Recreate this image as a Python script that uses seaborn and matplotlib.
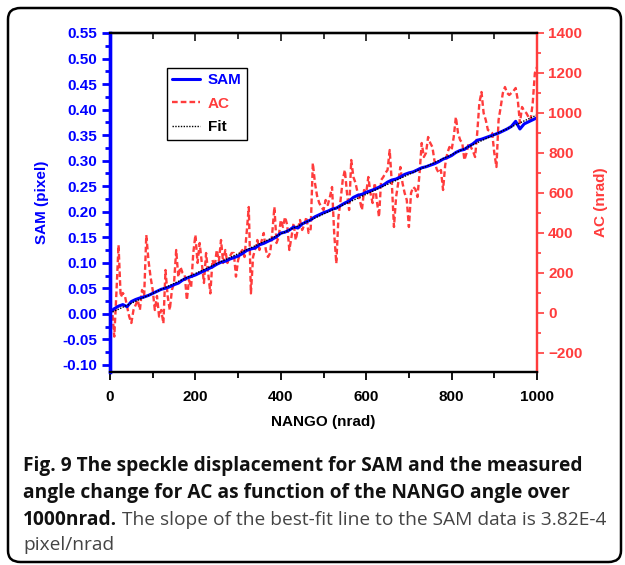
import numpy as np
import pandas as pd
import matplotlib
matplotlib.use("Agg")
import matplotlib.pyplot as plt
import seaborn as sns
from matplotlib.ticker import MultipleLocator, FormatStrFormatter
from matplotlib.patches import FancyBboxPatch
from matplotlib.lines import Line2D

# ---------------- data ----------------
sam_nango = list(range(0, 1001, 10))
sam = [0.003, 0.010, 0.015, 0.018, 0.014, 0.024, 0.028, 0.031, 0.033, 0.036,
       0.040, 0.044, 0.048, 0.050, 0.053, 0.057, 0.060, 0.066, 0.070, 0.073,
       0.076, 0.080, 0.084, 0.088, 0.092, 0.097, 0.101, 0.103, 0.107, 0.110,
       0.113, 0.118, 0.124, 0.127, 0.129, 0.135, 0.138, 0.142, 0.146, 0.151,
       0.158, 0.160, 0.164, 0.170, 0.168, 0.176, 0.180, 0.184, 0.190, 0.194,
       0.198, 0.201, 0.205, 0.207, 0.212, 0.217, 0.221, 0.228, 0.232, 0.234,
       0.238, 0.241, 0.244, 0.248, 0.252, 0.258, 0.262, 0.264, 0.268, 0.273,
       0.276, 0.278, 0.282, 0.286, 0.288, 0.291, 0.294, 0.298, 0.303, 0.306,
       0.310, 0.316, 0.320, 0.322, 0.328, 0.333, 0.340, 0.342, 0.345, 0.348,
       0.351, 0.354, 0.358, 0.362, 0.367, 0.377, 0.362, 0.372, 0.376, 0.380,
       0.384]

ac_nango = list(range(0, 1001, 5))
ac = [0, 15, -118, 100, 340, 80, 100, 85, 32, -18,
      -50, 15, 40, 65, 15, 115, 85, 390, 265, 180,
      115, 15, 85, -18, 15, -52, 215, 85, 15, 115,
      150, 315, 180, 230, 200, 190, 65, 165, 130, 300,
      390, 250, 350, 250, 150, 300, 200, 98, 265, 230,
      315, 260, 365, 250, 315, 250, 280, 300, 300, 182,
      265, 300, 315, 280, 400, 530, 98, 280, 320, 365,
      315, 360, 400, 315, 280, 300, 400, 530, 350, 380,
      465, 430, 480, 440, 315, 380, 450, 365, 420, 465,
      415, 440, 480, 400, 420, 750, 650, 585, 550, 530,
      515, 565, 540, 580, 630, 400, 248, 480, 565, 665,
      715, 600, 515, 765, 680, 650, 600, 565, 515, 615,
      600, 680, 600, 550, 650, 560, 480, 665, 680, 700,
      715, 815, 650, 430, 580, 650, 730, 650, 600, 565,
      430, 600, 630, 620, 580, 700, 850, 780, 800, 880,
      850, 830, 760, 720, 700, 715, 615, 740, 800, 830,
      815, 880, 980, 900, 865, 850, 765, 800, 850, 830,
      810, 780, 900, 1050, 1105, 1000, 965, 915, 910, 900,
      800, 730, 965, 1030, 1100, 1130, 1100, 1090, 1100, 1110,
      1125, 1065, 950, 1030, 1010, 1000, 980, 965, 1050, 1200,
      1230]

left_ticks = [-0.10, -0.05, 0.00, 0.05, 0.10, 0.15, 0.20, 0.25, 0.30, 0.35, 0.40, 0.45, 0.50, 0.55]
right_ticks = [-200, 0, 200, 400, 600, 800, 1000, 1200, 1400]
x_ticks = [0, 200, 400, 600, 800, 1000]

caption_bold_1 = "Fig. 9 The speckle displacement for SAM and the measured"
caption_bold_2 = "angle change for AC as function of the NANGO angle over"
caption_bold_3 = "1000nrad."
caption_norm_3 = " The slope of the best-fit line to the SAM data is 3.82E-4"
caption_norm_4 = "pixel/nrad"

df_sam = pd.DataFrame({"NANGO": sam_nango, "SAM": sam})
coef = np.polyfit(df_sam["NANGO"], df_sam["SAM"], 1)
df_sam["Fit"] = np.polyval(coef, df_sam["NANGO"])
df_ac = pd.DataFrame({"NANGO": ac_nango, "AC": ac})

# ---------------- style ----------------
sns.set_style("ticks")
plt.rcParams["font.family"] = ["Liberation Sans", "DejaVu Sans"]
plt.rcParams["font.weight"] = "bold"

BLUE = "#0000ff"
RED = "#ff3c3c"
W, H = 625, 565
fig = plt.figure(figsize=(W / 100, H / 100), dpi=100)

ax = fig.add_axes([110 / W, 1 - 372 / H, (537 - 110) / W, (372 - 33) / H])
ax2 = ax.twinx()

dash = (0, (2.4, 1.3))
sns.lineplot(data=df_ac, x="NANGO", y="AC", ax=ax2, color=RED, lw=1.7,
             linestyle=dash, legend=False)
sns.lineplot(data=df_sam, x="NANGO", y="SAM", ax=ax, color=BLUE, lw=2.2, legend=False)
sns.lineplot(data=df_sam, x="NANGO", y="Fit", ax=ax, color="black", lw=1.0,
             linestyle=(0, (1, 1)), legend=False)

ax.set_zorder(ax2.get_zorder() + 1)
ax.patch.set_visible(False)

ax.set_xlim(0, 1000)
ax.set_ylim(-0.114, 0.55)
ax2.set_ylim(-295, 1400)

ax.set_xticks(x_ticks)
ax.xaxis.set_minor_locator(MultipleLocator(100))
ax.set_yticks(left_ticks)
ax.yaxis.set_major_formatter(FormatStrFormatter("%.2f"))
ax.yaxis.set_minor_locator(MultipleLocator(0.025))
ax2.set_yticks(right_ticks)
ax2.yaxis.set_minor_locator(MultipleLocator(100))

fs = 11
ax.set_xlabel("NANGO (nrad)", fontsize=fs, fontweight="bold", color="black", labelpad=8)
ax.set_ylabel("SAM (pixel)", fontsize=fs, fontweight="bold", color=BLUE, labelpad=10)
ax2.set_ylabel("AC (nrad)", fontsize=fs, fontweight="bold", color=RED, labelpad=8)

for a in (ax, ax2):
    for s in a.spines.values():
        s.set_visible(True)
        s.set_linewidth(1.6)
        s.set_color("black")
for a in (ax, ax2):
    a.spines["left"].set_color(BLUE)
    a.spines["left"].set_linewidth(2.4)
    a.spines["right"].set_color(RED)

ax.tick_params(axis="y", which="major", colors=BLUE, labelsize=fs, length=6, width=2, pad=3)
ax.tick_params(axis="y", which="minor", colors=BLUE, length=3.5, width=2)
ax.tick_params(axis="x", which="both", labelsize=fs, colors="black",
               direction="out", width=1.3)
ax.tick_params(axis="x", which="major", length=6, pad=7)
ax.tick_params(axis="x", which="minor", length=4)
ax2.tick_params(axis="y", which="major", colors=RED, labelsize=fs, length=5, width=1.2, pad=3)
ax2.tick_params(axis="y", which="minor", colors=RED, length=3, width=1.2)

# top ticks pointing inwards
top = ax.secondary_xaxis("top")
top.set_xticks(x_ticks)
top.xaxis.set_minor_locator(MultipleLocator(100))
top.tick_params(axis="x", which="both", direction="in", labeltop=False, width=1.3)
top.tick_params(axis="x", which="major", length=6)
top.tick_params(axis="x", which="minor", length=4)
top.spines["top"].set_linewidth(1.6)

for lbl in ax.get_xticklabels() + ax.get_yticklabels() + ax2.get_yticklabels():
    lbl.set_fontweight("bold")

handles = [Line2D([], [], color=BLUE, lw=2.2),
           Line2D([], [], color=RED, lw=1.7, linestyle=dash),
           Line2D([], [], color="black", lw=1.0, linestyle=(0, (1, 1)))]
leg = ax.legend(handles, ["SAM", "AC", "Fit"], loc="upper left",
                bbox_to_anchor=(0.133, 0.897), frameon=True, fancybox=False,
                edgecolor="black", framealpha=1, prop={"size": fs, "weight": "bold"},
                handlelength=1.8, handletextpad=0.55, borderpad=0.35, labelspacing=0.62,
                borderaxespad=0)
leg.get_frame().set_linewidth(1.0)
for t, c in zip(leg.get_texts(), [BLUE, RED, "black"]):
    t.set_color(c)

# rounded frame
box = FancyBboxPatch((8 / W, 3 / H), (W - 4 - 8) / W, (H - 8 - 3) / H,
                     boxstyle="round,pad=0,rounding_size=0.02",
                     transform=fig.transFigure, fill=False, edgecolor="black",
                     lw=1.8, zorder=-1)
fig.patches.append(box)

# caption
cfont = ["Open Sans", "DejaVu Sans"]
cfs = 13.8
x0 = 23 / W
fig.text(x0, 1 - 471 / H, caption_bold_1, fontsize=cfs, fontweight="bold",
         family=cfont, color="#111111", va="baseline")
fig.text(x0, 1 - 498 / H, caption_bold_2, fontsize=cfs, fontweight="bold",
         family=cfont, color="#111111", va="baseline")
t3 = fig.text(x0, 1 - 525 / H, caption_bold_3, fontsize=cfs, fontweight="bold",
              family=cfont, color="#111111", va="baseline")
fig.canvas.draw()
bb = t3.get_window_extent(renderer=fig.canvas.get_renderer())
fig.text(bb.x1 / W, 1 - 525 / H, caption_norm_3, fontsize=cfs, fontweight="normal",
         family=cfont, color="#444444", va="baseline")
fig.text(x0, 1 - 550 / H, caption_norm_4, fontsize=cfs, fontweight="normal",
         family=cfont, color="#444444", va="baseline")

fig.savefig("out.png", dpi=100)
